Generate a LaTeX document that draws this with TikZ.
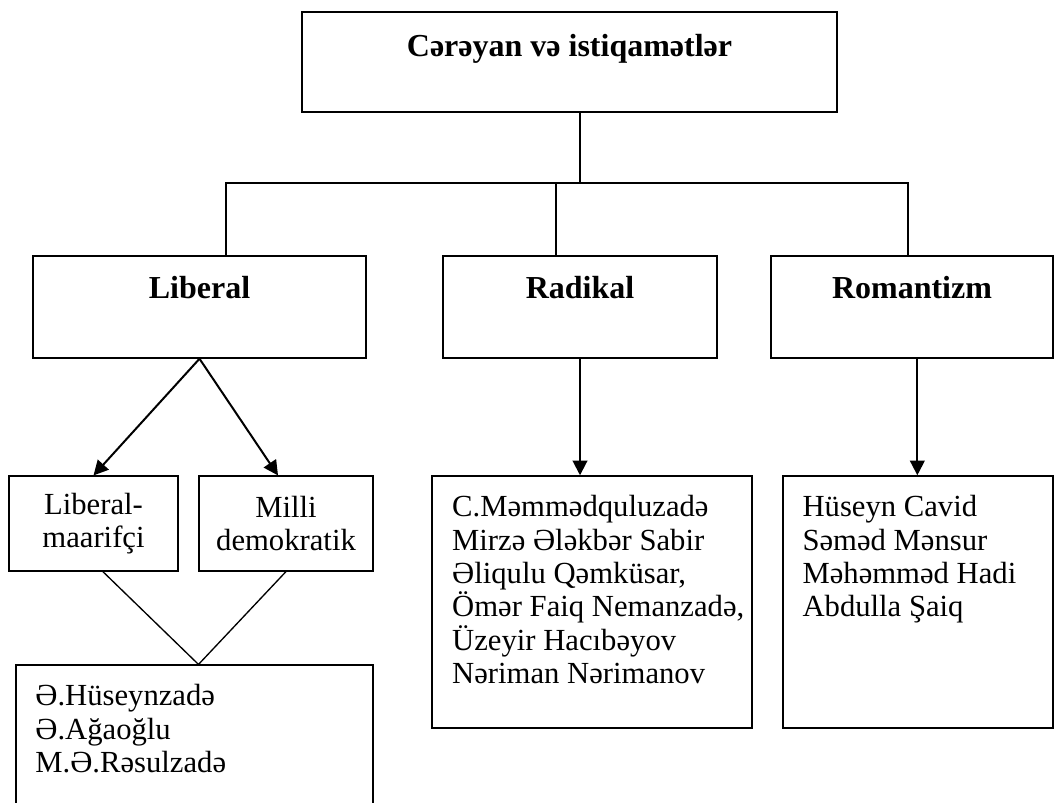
\documentclass[tikz,border=0pt]{standalone}
\usepackage{fontspec}
\setmainfont{Liberation Serif}
\usepackage{tikz}
\usetikzlibrary{arrows.meta,calc,positioning}

\begin{document}
\begin{tikzpicture}[x=0.75pt,y=-0.75pt, every node/.style={font=\fontsize{23}{25}\selectfont,align=center},
  b/.style={draw,line width=1.1pt,inner sep=0pt},
  hb/.style={b,font=\fontsize{24}{25}\selectfont\bfseries},
  t/.style={align=left,inner sep=0pt,anchor=north west},
  l/.style={draw,line width=1pt},
  a/.style={-{Triangle[length=11pt,width=11pt]},draw,line width=1.5pt}]
  \useasboundingbox (0,0) rectangle (1055,802);
  % top
  \node[hb,minimum width=401pt,minimum height=75pt] (title) at (569.5,62) {Cərəyan və istiqamətlər\\\mbox{}};
  \node[hb,minimum width=250pt,minimum height=76.5pt] (lib) at (199.5,307) {Liberal\\[4pt]\mbox{}};
  \node[hb,minimum width=205.5pt,minimum height=76.5pt] (rad) at (580,307) {Radikal\\[4pt]\mbox{}};
  \node[hb,minimum width=211.5pt,minimum height=76.5pt] (rom) at (912,307) {Romantizm\\[4pt]\mbox{}};
  \coordinate (bl) at (226,183); \coordinate (br) at (908,183);
  \coordinate (bt) at (580,183); \coordinate (bm) at (556,183);
  \draw[l] (title.south -| bt) -- (bt);
  \draw[l] (lib.north -| bl) -- (bl) -- (br) -- (rom.north -| br);
  \draw[l] (bm) -- (rad.north -| bm);
  % liberal branch
  \node[b,minimum width=127pt,minimum height=71pt] (lm) at (93.5,523.5) {Liberal-\\maarifçi};
  \node[b,minimum width=130.5pt,minimum height=71pt] (md) at (286,523.5) {Milli\\demokratik};
  \draw[a] (lib.south) -- (lm.north);
  \draw[a] (lib.south) -- ([xshift=-6pt]md.north);
  \node[b,minimum width=268pt,minimum height=131pt] (lout) at (194.5,752.5) {};
  \draw[l] ([xshift=7pt]lm.south) -- ([xshift=3pt]lout.north) -- (md.south);
  \node[t] (loutt) at ([shift={(15pt,-15pt)}]lout.north west) {Ə.Hüseynzadə\\Ə.Ağaoğlu\\M.Ə.Rəsulzadə};
  % radikal
  \node[b,minimum width=240pt,minimum height=189pt] (radl) at (592,602) {};
  \draw[a] (rad.south) -- (rad.south |- radl.north);
  \node[t] (radlt) at ([shift={(15.5pt,-15pt)}]radl.north west) {C.Məmmədquluzadə\\Mirzə Ələkbər Sabir\\Əliqulu Qəmküsar,\\Ömər Faiq Nemanzadə,\\Üzeyir Hacıbəyov\\Nəriman Nərimanov};
  % romantizm
  \node[b,minimum width=202.5pt,minimum height=189pt] (roml) at (918,602) {};
  \coordinate (ra) at ([xshift=4pt]rom.south);
  \draw[a] (ra) -- (ra |- roml.north);
  \node[t] (romlt) at ([shift={(15pt,-15pt)}]roml.north west) {Hüseyn Cavid\\Səməd Mənsur\\Məhəmməd Hadi\\Abdulla Şaiq};
\end{tikzpicture}
\end{document}
